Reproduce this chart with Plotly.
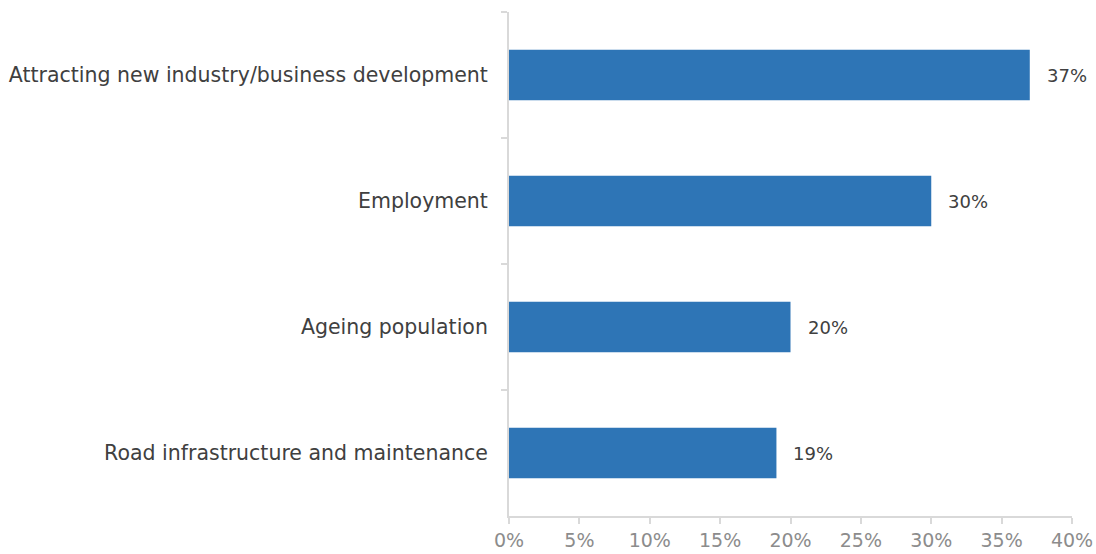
import plotly.graph_objects as go

categories = ["Attracting new industry/business development", "Employment",
              "Ageing population", "Road infrastructure and maintenance"]
values = [37, 30, 20, 19]
x_ticks = [0, 5, 10, 15, 20, 25, 30, 35, 40]
x_tick_labels = [f"{v}%" for v in x_ticks]

FONT = "DejaVu Sans, sans-serif"

fig = go.Figure()
fig.add_trace(go.Bar(
    y=categories, x=values, orientation="h",
    marker=dict(color="#2E75B6", line=dict(width=0)),
    hoverinfo="skip",
))

for c, v in zip(categories, values):
    fig.add_annotation(x=v, y=c, text=f"{v}%", showarrow=False,
                       xanchor="left", xshift=15,
                       font=dict(family=FONT, size=18, color="#404040"))

fig.update_layout(
    width=1096, height=554,
    margin=dict(l=509, r=24, t=12, b=38, autoexpand=False),
    paper_bgcolor="white", plot_bgcolor="white",
    bargap=0.6, showlegend=False,
    font=dict(family=FONT),
)
fig.update_xaxes(
    range=[0, 40], tickvals=x_ticks, ticktext=x_tick_labels,
    showgrid=False, zeroline=False, automargin=False,
    showline=True, linecolor="#d9d9d9", linewidth=2,
    ticks="outside", ticklen=6, tickcolor="#d9d9d9", tickwidth=2,
    tickfont=dict(family=FONT, size=19, color="#8c8c8c"),
)
fig.update_yaxes(
    autorange="reversed", tickson="boundaries", automargin=False,
    showgrid=False, zeroline=False,
    showline=True, linecolor="#d9d9d9", linewidth=2,
    ticks="outside", ticklen=6, tickcolor="#d9d9d9", tickwidth=2,
    ticklabelstandoff=15,
    tickfont=dict(family=FONT, size=20.5, color="#404040"),
)

fig.write_html("out.html", config={"displayModeBar": False},
               post_script="document.body.style.margin='0';document.body.style.overflow='hidden';")
